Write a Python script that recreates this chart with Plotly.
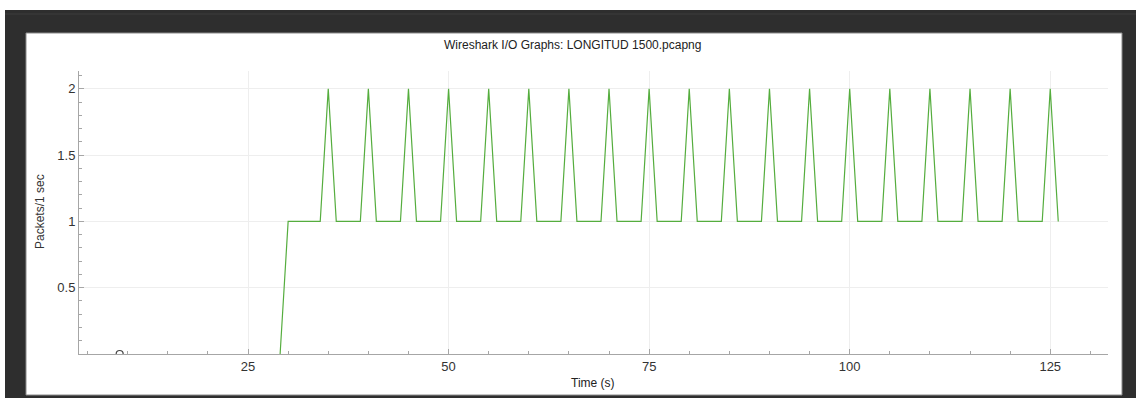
import plotly.graph_objects as go

# ---- data ----
time_s = list(range(29, 127))
packets = [
    0, 1, 1, 1, 1, 1,      # 29-34
    2, 1, 1, 1, 1,         # 35-39
    2, 1, 1, 1, 1,         # 40-44
    2, 1, 1, 1, 1,         # 45-49
    2, 1, 1, 1, 1,         # 50-54
    2, 1, 1, 1, 1,         # 55-59
    2, 1, 1, 1, 1,         # 60-64
    2, 1, 1, 1, 1,         # 65-69
    2, 1, 1, 1, 1,         # 70-74
    2, 1, 1, 1, 1,         # 75-79
    2, 1, 1, 1, 1,         # 80-84
    2, 1, 1, 1, 1,         # 85-89
    2, 1, 1, 1, 1,         # 90-94
    2, 1, 1, 1, 1,         # 95-99
    2, 1, 1, 1, 1,         # 100-104
    2, 1, 1, 1, 1,         # 105-109
    2, 1, 1, 1, 1,         # 110-114
    2, 1, 1, 1, 1,         # 115-119
    2, 1, 1, 1, 1,         # 120-124
    2, 1,                  # 125-126
]
marker_x = [9]
marker_y = [0]

x_ticks = [25, 50, 75, 100, 125]
y_ticks = [0.5, 1, 1.5, 2]
y_tick_text = ["0.5", "1", "1.5", "2"]

title_text = "Wireshark I/O Graphs: LONGITUD 1500.pcapng"
x_title = "Time (s)"
y_title = "Packets/1 sec"

# ---- layout geometry ----
W, H = 1136, 398
ML, MR, MT, MB = 79, 28, 71, 44
PW = W - ML - MR
PH = H - MT - MB


def px(x):
    return (x - ML) / PW


def py(y):
    return (H - MB - y) / PH


FONT = "Liberation Sans, Arial, Helvetica, sans-serif"
LINE_GREEN = "#55ad3e"
AXIS_COL = "#a6a6a6"
GRID_COL = "#eeeeee"

fig = go.Figure()
fig.add_trace(go.Scatter(
    x=time_s, y=packets, mode="lines",
    line=dict(color=LINE_GREEN, width=1.2),
    showlegend=False, hoverinfo="x+y",
))
fig.add_trace(go.Scatter(
    x=marker_x, y=marker_y, mode="markers",
    marker=dict(symbol="circle-open", size=7, color="#444", line=dict(width=1.2)),
    showlegend=False, cliponaxis=True,
))

shapes = [
    # white panel
    dict(type="rect", xref="paper", yref="paper", layer="below",
         x0=px(26), x1=px(1122), y0=py(395), y1=py(33),
         fillcolor="white", line=dict(color="#8a8a8a", width=1)),
    # top white strip
    dict(type="rect", xref="paper", yref="paper", layer="below",
         x0=px(0), x1=px(W), y0=py(10), y1=py(0),
         fillcolor="white", line=dict(width=0)),
    # left white strip
    dict(type="rect", xref="paper", yref="paper", layer="below",
         x0=px(0), x1=px(5), y0=py(H), y1=py(0),
         fillcolor="white", line=dict(width=0)),
    # faint line in top dark band
    dict(type="line", xref="paper", yref="paper", layer="below",
         x0=px(5), x1=px(W), y0=py(14), y1=py(14),
         line=dict(color="#3c3c3c", width=1)),
]

annotations = [
    dict(text=title_text, xref="paper", yref="paper", x=px(572), y=py(45),
         showarrow=False, font=dict(family=FONT, size=12, color="#222"),
         xanchor="center", yanchor="middle"),
    dict(text=x_title, xref="paper", yref="paper", x=px(593), y=py(383),
         showarrow=False, font=dict(family=FONT, size=12, color="#222"),
         xanchor="center", yanchor="middle"),
    dict(text=y_title, xref="paper", yref="paper", x=px(40), y=py(212),
         showarrow=False, textangle=-90,
         font=dict(family=FONT, size=12, color="#333"),
         xanchor="center", yanchor="middle"),
]

fig.update_layout(
    width=W, height=H,
    margin=dict(l=ML, r=MR, t=MT, b=MB, pad=0),
    paper_bgcolor="#2e2e2e",
    plot_bgcolor="white",
    shapes=shapes,
    annotations=annotations,
    font=dict(family=FONT, size=13, color="#333"),
    xaxis=dict(
        range=[3.93, 132.2], tickvals=x_ticks, ticktext=[str(t) for t in x_ticks],
        showline=True, linecolor=AXIS_COL, linewidth=1,
        ticks="inside", ticklen=5, tickcolor=AXIS_COL,
        showgrid=True, gridcolor=GRID_COL, gridwidth=1,
        zeroline=False, fixedrange=True,
        tickfont=dict(family=FONT, size=13, color="#333"),
        minor=dict(dtick=5, tick0=0, ticks="inside", ticklen=3,
                   tickcolor=AXIS_COL, showgrid=False),
    ),
    yaxis=dict(
        range=[0, 2.135], tickvals=y_ticks, ticktext=y_tick_text,
        showline=True, linecolor=AXIS_COL, linewidth=1,
        ticks="inside", ticklen=5, tickcolor=AXIS_COL,
        showgrid=True, gridcolor=GRID_COL, gridwidth=1,
        zeroline=False, fixedrange=True,
        tickfont=dict(family=FONT, size=13, color="#333"),
        minor=dict(dtick=0.1, tick0=0, ticks="inside", ticklen=3,
                   tickcolor=AXIS_COL, showgrid=False),
    ),
)

fig.write_html(
    "out.html",
    config={"displayModeBar": False},
    post_script="document.body.style.margin='0';document.body.style.padding='0';"
                "document.body.style.overflow='hidden';",
)
